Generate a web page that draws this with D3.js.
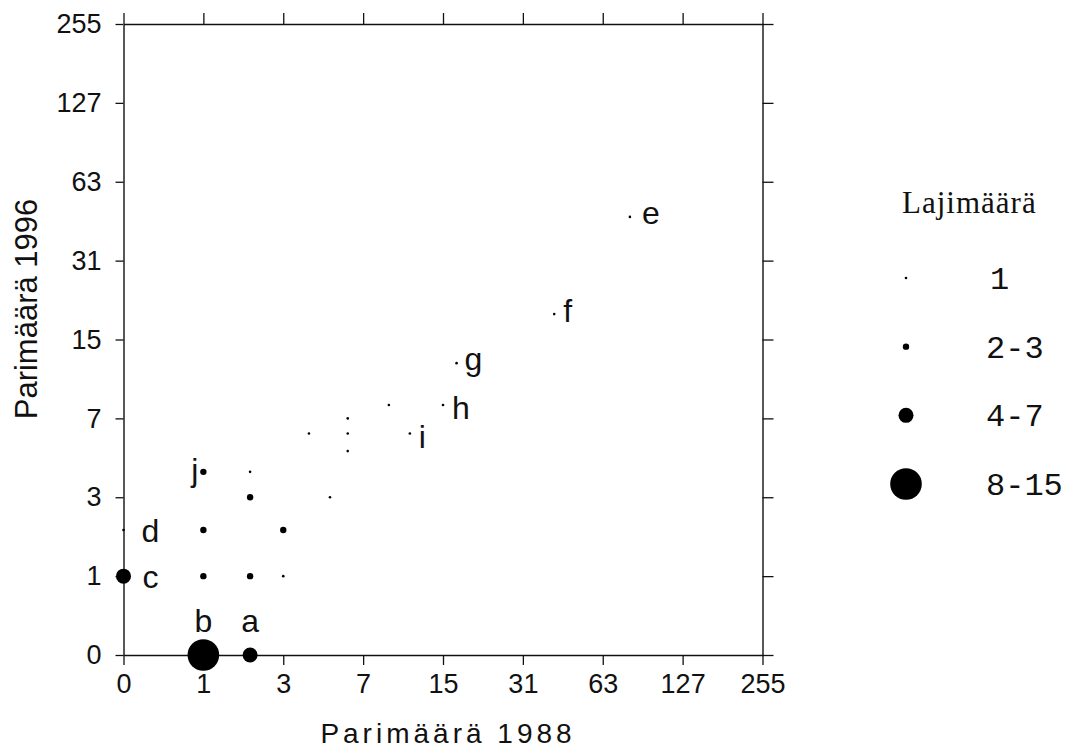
<!DOCTYPE html>
<html>
<head>
<meta charset="utf-8">
<script src="https://cdn.jsdelivr.net/npm/d3@7"></script>
<style>
  html, body { margin: 0; padding: 0; background: #fff; }
  svg { display: block; }
</style>
</head>
<body>
<svg id="chart" width="1070" height="751"></svg>
<script>
// ---- data ----
const tickValues = [0, 1, 3, 7, 15, 31, 63, 127, 255];
const pairs1988 = [2, 1, 0, 0, 80, 41, 17, 15, 11, 1, 2, 2, 1, 3, 1, 2, 3, 5, 4, 6, 6, 6, 9];
const pairs1996 = [0, 0, 1, 2, 46, 19, 12, 8, 6, 4, 4, 3, 2, 2, 1, 1, 1, 3, 6, 7, 6, 5, 8];
const speciesClass = ["4-7", "8-15", "4-7", "1", "1", "1", "1", "1", "1", "2-3",
                      "1", "2-3", "2-3", "2-3", "2-3", "2-3", "1", "1", "1", "1", "1", "1", "1"];
const pointLetters = ["a", "b", "c", "d", "e", "f", "g", "h", "i", "j",
                      "", "", "", "", "", "", "", "", "", "", "", "", ""];
const legendClasses = ["1", "2-3", "4-7", "8-15"];
const xTitle = "Parimäärä 1988";
const yTitle = "Parimäärä 1996";
const legendTitle = "Lajimäärä";

// ---- layout ----
const svg = d3.select("#chart");
const tr = v => Math.log2(v + 1);
const x = d3.scaleLinear().domain([0, 8]).range([123.5, 762.5]);
const y = d3.scaleLinear().domain([0, 8]).range([655, 24]);
const r = d3.scaleOrdinal().domain(legendClasses).range([1.3, 3.2, 7.5, 15.8]);
const fmt = d => String(Math.round(Math.pow(2, d) - 1));
const tv = tickValues.map(tr);

const points = pairs1988.map((v, i) => ({
  x: v, y: pairs1996[i], cls: speciesClass[i], letter: pointLetters[i]
}));

// label placement relative to its point
const labelPos = {
  a: {dx: 0, dy: -23, anchor: "middle"},
  b: {dx: 0, dy: -23, anchor: "middle"},
  c: {dx: 19, dy: 12, anchor: "start"},
  d: {dx: 18, dy: 12, anchor: "start"},
  e: {dx: 12, dy: 7, anchor: "start"},
  f: {dx: 9, dy: 8, anchor: "start"},
  g: {dx: 8, dy: 7, anchor: "start"},
  h: {dx: 9, dy: 14, anchor: "start"},
  i: {dx: 9, dy: 14, anchor: "start"},
  j: {dx: -5, dy: 9, anchor: "end"}
};

function styleAxis(g) {
  g.selectAll("path.domain").attr("stroke", "#111").attr("stroke-width", 1.4);
  g.selectAll(".tick line").attr("stroke", "#111").attr("stroke-width", 1.3);
  g.selectAll(".tick text")
    .attr("fill", "#111")
    .style("font-family", "'Liberation Sans', Arial, sans-serif")
    .style("font-size", "27px");
}

// axes
svg.append("g").attr("transform", "translate(0,655)")
  .call(d3.axisBottom(x).tickValues(tv).tickFormat(fmt).tickSize(10).tickPadding(9).tickSizeOuter(0))
  .call(styleAxis);
svg.append("g").attr("transform", "translate(123.5,0)")
  .call(d3.axisLeft(y).tickValues(tv).tickFormat(fmt).tickSize(8).tickPadding(14).tickSizeOuter(0))
  .call(styleAxis);
svg.append("g").attr("transform", "translate(0,24)")
  .call(d3.axisTop(x).tickValues(tv).tickFormat("").tickSize(11).tickSizeOuter(0))
  .call(styleAxis);
svg.append("g").attr("transform", "translate(762.5,0)")
  .call(d3.axisRight(y).tickValues(tv).tickFormat("").tickSize(11).tickSizeOuter(0))
  .call(styleAxis);

// points
svg.append("g").selectAll("circle").data(points).join("circle")
  .attr("cx", d => x(tr(d.x)))
  .attr("cy", d => y(tr(d.y)))
  .attr("r", d => r(d.cls))
  .attr("fill", "#000");

// point letters
svg.append("g").selectAll("text").data(points.filter(d => d.letter)).join("text")
  .attr("x", d => x(tr(d.x)) + labelPos[d.letter].dx)
  .attr("y", d => y(tr(d.y)) + labelPos[d.letter].dy)
  .attr("text-anchor", d => labelPos[d.letter].anchor)
  .style("font-family", "'Liberation Sans', Arial, sans-serif")
  .style("font-size", "32px")
  .attr("fill", "#111")
  .text(d => d.letter);

// axis titles
svg.append("text")
  .attr("x", 448).attr("y", 743)
  .attr("text-anchor", "middle")
  .style("font-family", "'Liberation Sans', Arial, sans-serif")
  .style("font-size", "28px")
  .style("letter-spacing", "4px")
  .attr("fill", "#111")
  .text(xTitle);
svg.append("text")
  .attr("transform", "translate(37,309) rotate(-90)")
  .attr("text-anchor", "middle")
  .style("font-family", "'Liberation Sans', Arial, sans-serif")
  .style("font-size", "31px")
  .attr("fill", "#111")
  .text(yTitle);

// legend
const legend = svg.append("g");
legend.append("text")
  .attr("x", 902).attr("y", 213)
  .style("font-family", "'Liberation Serif', 'Times New Roman', serif")
  .style("font-size", "31px")
  .style("letter-spacing", "1px")
  .attr("fill", "#111")
  .text(legendTitle);
const ly = d3.scalePoint().domain(legendClasses).range([278, 484]);
const items = legend.selectAll("g.item").data(legendClasses).join("g").attr("class", "item");
items.append("circle")
  .attr("cx", 906)
  .attr("cy", d => ly(d))
  .attr("r", d => r(d))
  .attr("fill", "#000");
items.append("text")
  .attr("x", d => d === "1" ? 990 : 986)
  .attr("y", d => ly(d) + 11)
  .style("font-family", "'Liberation Mono', 'Courier New', monospace")
  .style("font-size", "32px")
  .attr("fill", "#111")
  .text(d => d);
</script>
</body>
</html>
